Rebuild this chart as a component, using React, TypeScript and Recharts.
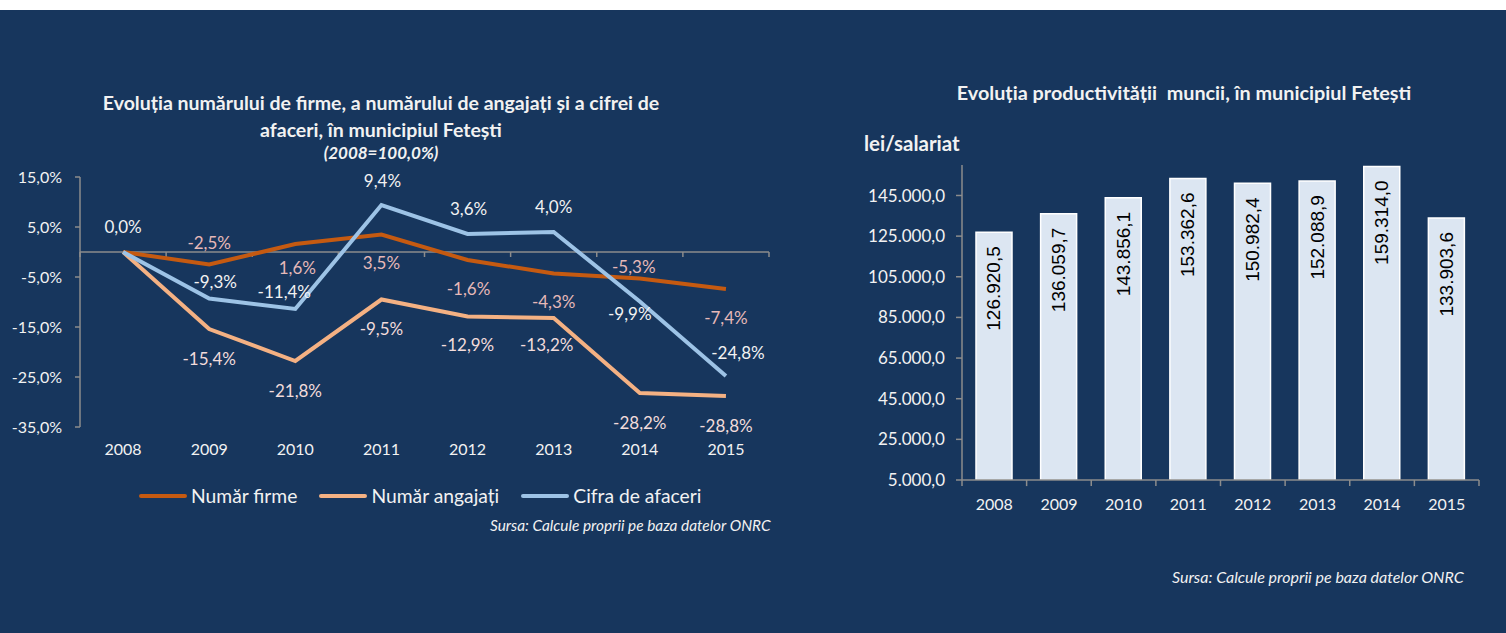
import React from "react";
import {
  LineChart,
  Line,
  XAxis,
  YAxis,
  ReferenceLine,
  LabelList,
  Legend,
  BarChart,
  Bar,
} from "recharts";

const years = ["2008", "2009", "2010", "2011", "2012", "2013", "2014", "2015"];
const firme = [0, -2.5, 1.6, 3.5, -1.6, -4.3, -5.3, -7.4];
const angajati = [0, -15.4, -21.8, -9.5, -12.9, -13.2, -28.2, -28.8];
const cifra = [0, -9.3, -11.4, 9.4, 3.6, 4.0, -9.9, -24.8];
const pctTicks = [-35, -25, -15, -5, 5, 15];

const productivitate = [126920.5, 136059.7, 143856.1, 153362.6, 150982.4, 152088.9, 159314.0, 133903.6];
const leiTicks = [5000, 25000, 45000, 65000, 85000, 105000, 125000, 145000];

// label placement relative to each point (dx, dy), null = no label
const firmeLabelPos: ([number, number] | null)[] = [null, [0, -22], [2, 23], [0, 28], [1, 28], [0, 28], [-6, -12], [0, 28]];
const angajatiLabelPos: ([number, number] | null)[] = [null, [0, 29], [0, 29], [0, 29], [0, 28], [-7, 26], [0, 29], [0, 29]];
const cifraLabelPos: ([number, number] | null)[] = [[0, -26], [6, -17], [-11, -18], [1, -25], [1, -26], [0, -26], [-10, 12], [12, -24]];

const BG = "#17365d";
const AXIS = "#8c8c8c";
const TEXT = "#f2f2f2";
const FONT = "Lato, 'Open Sans', sans-serif";

const C_FIRME = "#c55a11";
const C_ANG = "#f4b183";
const C_CIFRA = "#9dc3e6";

const lineData = years.map((y, i) => ({ i, year: y, firme: firme[i], angajati: angajati[i], cifra: cifra[i] }));
const barData = years.map((y, i) => ({ year: y, value: productivitate[i] }));
const xIdx = years.map((_, i) => i);
const xBounds = [...xIdx.map((i) => i - 0.5), years.length - 0.5];

const pct = (v: number) => v.toFixed(1).replace(".", ",") + "%";
const lei = (v: number) => {
  const [i, d] = v.toFixed(1).split(".");
  return i.replace(/\B(?=(\d{3})+(?!\d))/g, ".") + "," + d;
};

function pointLabel(pos: ([number, number] | null)[], color: string) {
  return (props: any) => {
    const { x, y, index, value } = props;
    const o = pos[index];
    if (!o) return null;
    return (
      <text
        x={x + o[0]}
        y={y + o[1]}
        textAnchor="middle"
        dominantBaseline="central"
        fill={color}
        fontSize={17}
        fontFamily={FONT}
      >
        {pct(value)}
      </text>
    );
  };
}

function barLabel(props: any) {
  const { x, y, width, value } = props;
  const cx = x + width / 2;
  const ty = y + 14;
  return (
    <text
      x={cx}
      y={ty}
      transform={`rotate(-90, ${cx}, ${ty})`}
      textAnchor="end"
      dominantBaseline="central"
      fill="#000"
      fontSize={19}
      fontFamily="'Liberation Sans', Arial, sans-serif"
    >
      {lei(value)}
    </text>
  );
}

const legendItems = [
  { label: "Număr firme", color: C_FIRME },
  { label: "Număr angajați", color: C_ANG },
  { label: "Cifra de afaceri", color: C_CIFRA },
];

function LegendContent() {
  return (
    <div style={{ display: "flex", gap: 22, fontFamily: FONT, fontSize: 19.3, color: TEXT }}>
      {legendItems.map((it) => (
        <div key={it.label} style={{ display: "flex", alignItems: "center" }}>
          <span
            style={{ display: "inline-block", width: 48, height: 4, borderRadius: 2, background: it.color, marginRight: 4 }}
          />
          <span>{it.label}</span>
        </div>
      ))}
    </div>
  );
}

const tickStyle = { fill: TEXT, fontSize: 16, fontFamily: FONT };

const titleLine = (top: number, extra: React.CSSProperties = {}): React.CSSProperties => ({
  position: "absolute",
  left: 0,
  width: 762,
  top,
  textAlign: "center",
  color: TEXT,
  fontFamily: FONT,
  fontWeight: 700,
  fontSize: 19.5,
  lineHeight: "24px",
  whiteSpace: "nowrap",
  ...extra,
});

export default function App() {
  return (
    <div style={{ position: "absolute", left: 0, top: 0, width: 1506, height: 633, background: "#fff", overflow: "hidden" }}>
      <div style={{ position: "absolute", left: 0, top: 10, width: 1506, height: 623, background: BG }} />

      {/* left title */}
      <div style={titleLine(91)}>Evoluția numărului de firme, a numărului de angajați și a cifrei de</div>
      <div style={titleLine(118)}>afaceri, în municipiul Fetești</div>
      <div style={titleLine(141, { fontStyle: "italic", fontSize: 17 })}>(2008=100,0%)</div>

      <div style={{ position: "absolute", left: 0, top: 0 }}>
        <LineChart width={790} height={470} data={lineData} margin={{ top: 177, right: 21, left: 0, bottom: 0 }}>
          <XAxis
            dataKey="i"
            type="number"
            domain={[-0.5, years.length - 0.5]}
            ticks={xIdx}
            tickFormatter={(i: number) => years[i]}
            axisLine={false}
            tickLine={false}
            tickSize={0}
            tickMargin={17}
            height={43}
            tick={tickStyle}
          />
          <YAxis
            domain={[-35, 15]}
            ticks={pctTicks}
            width={80}
            tickFormatter={pct}
            axisLine={{ stroke: AXIS, strokeWidth: 1.5 }}
            tickLine={{ stroke: AXIS, strokeWidth: 1.5 }}
            tickSize={5}
            tickMargin={13}
            tick={tickStyle}
          />
          <ReferenceLine y={0} stroke={AXIS} strokeWidth={1.5} />
          {xBounds.map((b) => (
            <ReferenceLine
              key={b}
              segment={[{ x: b, y: 0 }, { x: b, y: -1 }]}
              stroke={AXIS}
              strokeWidth={1.5}
            />
          ))}
          <Line dataKey="firme" stroke={C_FIRME} strokeWidth={4} dot={false} isAnimationActive={false}>
            <LabelList dataKey="firme" content={pointLabel(firmeLabelPos, "#e6b9b8")} />
          </Line>
          <Line dataKey="angajati" stroke={C_ANG} strokeWidth={4} dot={false} isAnimationActive={false}>
            <LabelList dataKey="angajati" content={pointLabel(angajatiLabelPos, "#f2dcdb")} />
          </Line>
          <Line dataKey="cifra" stroke={C_CIFRA} strokeWidth={4} dot={false} isAnimationActive={false}>
            <LabelList dataKey="cifra" content={pointLabel(cifraLabelPos, TEXT)} />
          </Line>
          <Legend
            layout="horizontal"
            verticalAlign="middle"
            align="center"
            content={<LegendContent />}
            wrapperStyle={{ left: 139, top: 484, width: 650, height: 26 }}
          />
        </LineChart>
      </div>

      <div
        style={{
          position: "absolute",
          left: 490,
          top: 515,
          color: TEXT,
          fontFamily: FONT,
          fontStyle: "italic",
          fontSize: 15.4,
          lineHeight: "20px",
          whiteSpace: "nowrap",
        }}
      >
        Sursa: Calcule proprii pe baza datelor ONRC
      </div>

      {/* right title */}
      <div
        style={{
          position: "absolute",
          left: 862,
          width: 644,
          top: 80,
          textAlign: "center",
          color: TEXT,
          fontFamily: FONT,
          fontWeight: 700,
          fontSize: 19.8,
          lineHeight: "24px",
          whiteSpace: "pre",
        }}
      >
        {"Evoluția productivității  muncii, în municipiul Fetești"}
      </div>
      <div
        style={{
          position: "absolute",
          left: 864,
          top: 131,
          color: TEXT,
          fontFamily: FONT,
          fontWeight: 700,
          fontSize: 20.5,
          lineHeight: "24px",
        }}
      >
        lei/salariat
      </div>

      <div style={{ position: "absolute", left: 840, top: 0 }}>
        <BarChart width={660} height={530} data={barData} margin={{ top: 165, right: 21, left: 0, bottom: 0 }}>
          <XAxis
            dataKey="year"
            axisLine={{ stroke: AXIS, strokeWidth: 1.5 }}
            tickLine={false}
            tickSize={0}
            tickMargin={19}
            height={50}
            tick={tickStyle}
          />
          <YAxis
            domain={[5000, 160000]}
            ticks={leiTicks}
            width={122}
            tickFormatter={lei}
            axisLine={{ stroke: AXIS, strokeWidth: 1.5 }}
            tickLine={{ stroke: AXIS, strokeWidth: 1.5 }}
            tickSize={6}
            tickMargin={11}
            tick={{ ...tickStyle, fontSize: 17 }}
            allowDataOverflow
          />
          {years.map((yr) => (
            <ReferenceLine
              key={yr}
              segment={[{ x: yr, y: 5000 }, { x: yr, y: 2000 }]}
              position="start"
              ifOverflow="visible"
              stroke={AXIS}
              strokeWidth={1.5}
            />
          ))}
          <ReferenceLine
            segment={[{ x: years[years.length - 1], y: 5000 }, { x: years[years.length - 1], y: 2000 }]}
            position="end"
            ifOverflow="visible"
            stroke={AXIS}
            strokeWidth={1.5}
          />
          <Bar dataKey="value" fill="#dce6f2" stroke="#ffffff" strokeWidth={1.5} barSize={36} isAnimationActive={false}>
            <LabelList dataKey="value" content={barLabel} />
          </Bar>
        </BarChart>
      </div>

      <div
        style={{
          position: "absolute",
          left: 1172,
          top: 567,
          color: TEXT,
          fontFamily: FONT,
          fontStyle: "italic",
          fontSize: 16,
          lineHeight: "20px",
          whiteSpace: "nowrap",
        }}
      >
        Sursa: Calcule proprii pe baza datelor ONRC
      </div>
    </div>
  );
}
